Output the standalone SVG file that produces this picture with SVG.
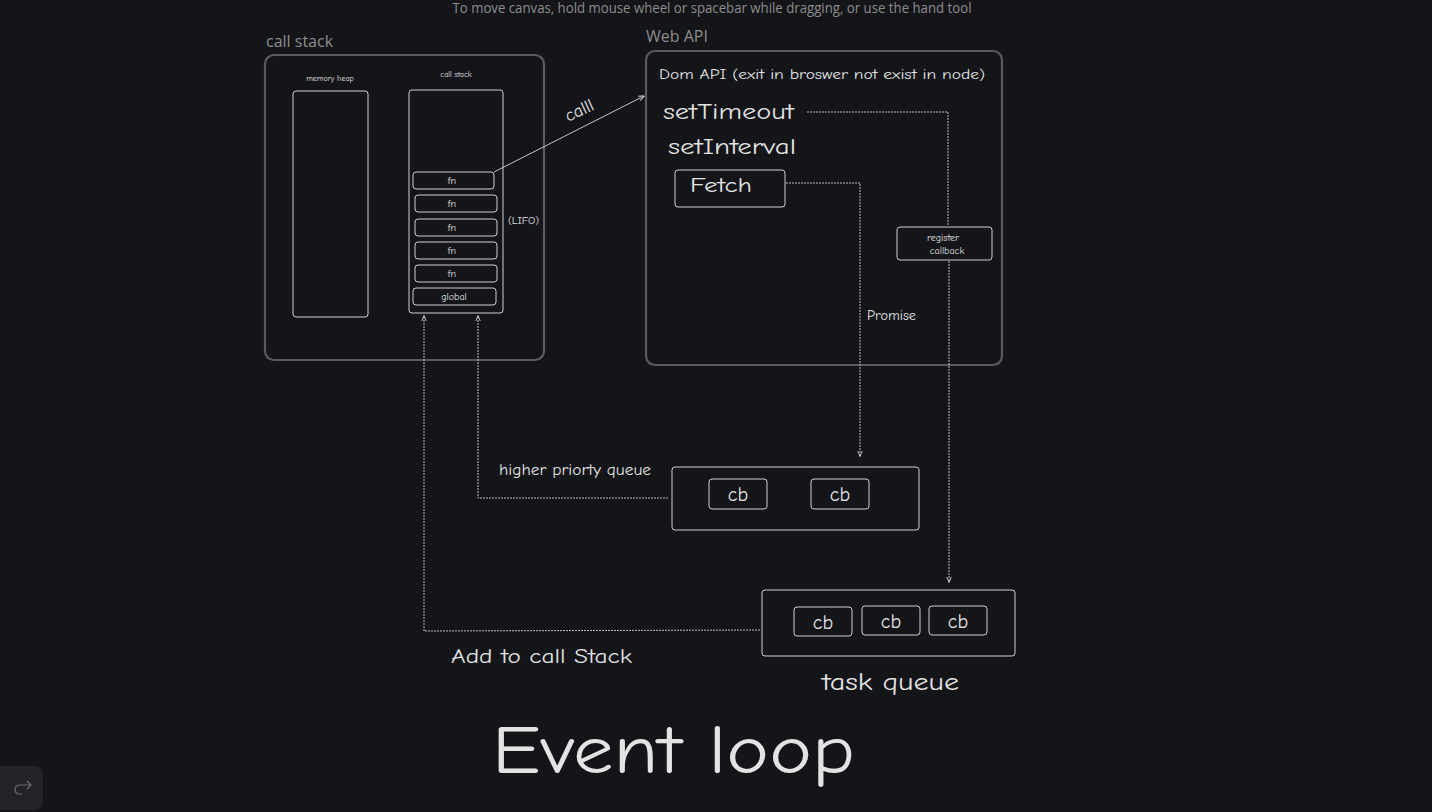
<svg xmlns="http://www.w3.org/2000/svg" width="1432" height="812" viewBox="0 0 1432 812">
<defs>
<style>
.hw{font-family:"Comic Neue","Liberation Sans","DejaVu Sans",sans-serif;fill:#e3e3e3}
.ui{font-family:"Open Sans","Noto Sans",sans-serif;fill:#8d8d8d}
.outer{fill:none;stroke:#5b5b5d;stroke-width:2.2}
.inner{fill:none;stroke:#cfcfcf;stroke-width:1}
.conn{fill:none;stroke:#bdbdbd;stroke-width:1;stroke-dasharray:2 1}
.solid{fill:none;stroke:#c8c8c8;stroke-width:1}
</style>
<marker id="ah" viewBox="0 0 10 10" refX="9" refY="5" markerWidth="6" markerHeight="6" orient="auto-start-reverse" markerUnits="userSpaceOnUse">
<path d="M0,1 L10,5 L0,9" fill="none" stroke="#d0d0d0" stroke-width="1.5"/>
</marker>
</defs>
<rect width="1432" height="812" fill="#131519"/>
<text class="ui" x="712" y="13" font-size="14" text-anchor="middle" textLength="519" lengthAdjust="spacingAndGlyphs">To move canvas, hold mouse wheel or spacebar while dragging, or use the hand tool</text>

<g id="callstack-area">
<text class="ui" x="266" y="47" font-size="16" fill="#9a9a9a">call stack</text>
<rect class="outer" x="265" y="55" width="279" height="305" rx="9"/>
</g>
<g id="memory-heap">
<text class="hw" x="330" y="81" font-size="8" text-anchor="middle">memory heap</text>
<rect class="inner" x="293" y="91" width="75" height="226" rx="3"/>
</g>
<g id="call-stack">
<text class="hw" x="456" y="77" font-size="8" text-anchor="middle">call stack</text>
<rect class="inner" x="409" y="90" width="94" height="223" rx="3"/>
<rect class="inner" x="413" y="172" width="81" height="17" rx="3"/>
<text class="hw" x="452" y="184" font-size="10" text-anchor="middle">fn</text>
<rect class="inner" x="415" y="195" width="82" height="17" rx="3"/>
<text class="hw" x="452" y="207" font-size="10" text-anchor="middle">fn</text>
<rect class="inner" x="415" y="219" width="82" height="17" rx="3"/>
<text class="hw" x="452" y="231" font-size="10" text-anchor="middle">fn</text>
<rect class="inner" x="415" y="242" width="82" height="17" rx="3"/>
<text class="hw" x="452" y="254" font-size="10" text-anchor="middle">fn</text>
<rect class="inner" x="415" y="265" width="82" height="17" rx="3"/>
<text class="hw" x="452" y="277" font-size="10" text-anchor="middle">fn</text>
<rect class="inner" x="413" y="288" width="83" height="17" rx="3"/>
<text class="hw" x="454" y="300" font-size="10" text-anchor="middle">global</text>
<text class="hw" x="508" y="224" font-size="9" textLength="31" lengthAdjust="spacingAndGlyphs">(LIFO)</text>
</g>

<g id="web-api">
<text class="ui" x="646" y="42" font-size="16" fill="#9a9a9a">Web API</text>
<rect class="outer" x="646" y="51" width="356" height="314" rx="9"/>
<text class="hw" x="659" y="79" font-size="14" textLength="326" lengthAdjust="spacingAndGlyphs">Dom API  (exit in broswer not exist in node)</text>
<text class="hw" x="663" y="119" font-size="22" textLength="131" lengthAdjust="spacingAndGlyphs">setTimeout</text>
<text class="hw" x="668" y="154" font-size="22" textLength="128" lengthAdjust="spacingAndGlyphs">setInterval</text>
</g>
<g id="fetch">
<rect class="inner" x="675" y="170" width="110" height="37" rx="3"/>
<text class="hw" x="690" y="192" font-size="20" textLength="62" lengthAdjust="spacingAndGlyphs">Fetch</text>
</g>
<g id="register-callback">
<rect class="inner" x="897" y="227" width="95" height="33" rx="3"/>
<text class="hw" x="943" y="241" font-size="10" text-anchor="middle">register</text>
<text class="hw" x="947" y="254" font-size="10" text-anchor="middle">callback</text>
</g>

<g id="micro-queue">
<text class="hw" x="499" y="475" font-size="15" textLength="152" lengthAdjust="spacingAndGlyphs">higher priorty queue</text>
<rect class="inner" x="672" y="467" width="247" height="63" rx="3"/>
<rect class="inner" x="709" y="479" width="58" height="30" rx="3"/>
<text class="hw" x="738" y="501" font-size="20" text-anchor="middle">cb</text>
<rect class="inner" x="811" y="479" width="58" height="30" rx="3"/>
<text class="hw" x="840" y="501" font-size="20" text-anchor="middle">cb</text>
</g>

<g id="task-queue">
<rect class="inner" x="762" y="590" width="253" height="66" rx="3"/>
<rect class="inner" x="794" y="607" width="58" height="29" rx="3"/>
<text class="hw" x="823" y="629" font-size="20" text-anchor="middle">cb</text>
<rect class="inner" x="862" y="606" width="58" height="29" rx="3"/>
<text class="hw" x="891" y="628" font-size="20" text-anchor="middle">cb</text>
<rect class="inner" x="929" y="606" width="58" height="29" rx="3"/>
<text class="hw" x="958" y="628" font-size="20" text-anchor="middle">cb</text>
<text class="hw" x="822" y="690" font-size="24" textLength="137" lengthAdjust="spacingAndGlyphs">task queue</text>
</g>

<g id="connectors">
<path class="solid" d="M494,172 L644,96" marker-end="url(#ah)"/>
<text class="hw" x="580" y="116" font-size="18" text-anchor="middle" transform="rotate(-25 580 112)">calll</text>
<path class="conn" d="M807,112 L948,112 L948,226"/>
<path class="conn" d="M949,261 L949,582" marker-end="url(#ah)"/>
<path class="conn" d="M786,183 L860,183 L860,456" marker-end="url(#ah)"/>
<text class="hw" x="867" y="320" font-size="13" textLength="49" lengthAdjust="spacingAndGlyphs">Promise</text>
<path class="conn" d="M668,498 L478,498 L478,316" marker-end="url(#ah)"/>
<path class="conn" d="M760,630 L424,631 L424,316" marker-end="url(#ah)"/>
<text class="hw" x="451" y="663" font-size="20" textLength="181" lengthAdjust="spacingAndGlyphs">Add to call Stack</text>
</g>

<g id="title">
<text class="hw" x="492" y="773" font-size="68" fill="#dcdcdc" textLength="363" lengthAdjust="spacingAndGlyphs">Event loop</text>
</g>

<g id="ui-button">
<rect x="-10" y="766" width="53" height="44" rx="8" fill="#232329"/>
<path d="M27,781 L31,785 L27,789 M31,785 L20,785 Q15,785 15,789.5 Q15,794 20,794 L22,794" fill="none" stroke="#6b6b70" stroke-width="1.2"/>
</g>
</svg>
